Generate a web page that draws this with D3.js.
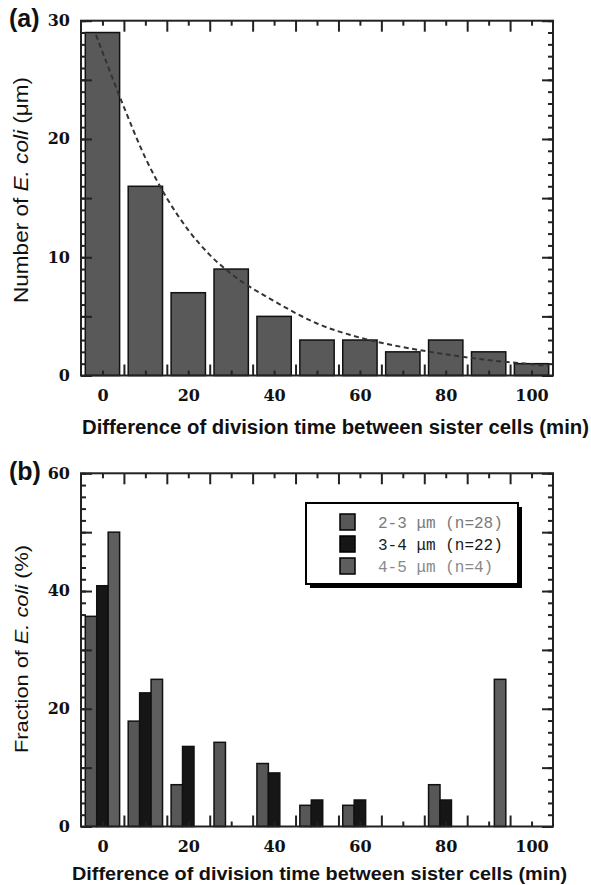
<!DOCTYPE html>
<html><head><meta charset="utf-8">
<script src="https://cdn.jsdelivr.net/npm/d3@7"></script>
<style>
html,body{margin:0;padding:0;background:#fff;}
svg{display:block;}
</style>
</head><body>
<svg id="chart" width="591" height="885"></svg>
<script>
// ---------- data ----------
const bins = [0,10,20,30,40,50,60,70,80,90,100];
const countsA = [29,16,7,9,5,3,3,2,3,2,1];
const fitX = [-1.5,5,10,15,20,25,30,40,50,60,70,80,90,100,104];
const fitY = [28.8,22.7,18.4,15.0,12.3,10.2,8.6,6.3,4.4,3.2,2.4,1.8,1.3,0.95,0.8];
const seriesNames = ["2-3 \u03bcm (n=28)","3-4 \u03bcm (n=22)","4-5 \u03bcm (n=4)"];
const frac23 = [35.7,17.9,7.1,14.3,10.7,3.6,3.6,0,7.1,0,0];
const frac34 = [40.9,22.7,13.6,0,9.1,4.5,4.5,0,4.5,0,0];
const frac45 = [50,25,0,0,0,0,0,0,0,25,0];
const xTickLabels = [0,20,40,60,80,100];
const yTicksA = [0,10,20,30];
const yTicksB = [0,20,40,60];
const xLabel = "Difference of division time between sister cells (min)";

const svg = d3.select("#chart");
const L = 81, R = 553;
const x = d3.scaleLinear().domain([-5,105]).range([L,R]);
const longX = d3.range(5,100,10);
const shortX = d3.range(0,101,10);
const seriesFill = ["#575757","#161616","#5e5e5e"];
const tickFont = "'DejaVu Serif', serif";

function frame(top, bottom, y, minorStep, majorStep, yTicks, ymax){
  const g = svg.append("g");
  // top ticks
  const mk = (axis, tf, vals, size) => {
    const a = g.append("g").attr("transform", tf).call(axis.tickValues(vals).tickSize(size).tickFormat(""));
    a.select(".domain").remove();
    a.selectAll("line").attr("stroke","#222").attr("stroke-width",2);
  };
  mk(d3.axisBottom(x), `translate(0,${top})`, longX, 11);
  mk(d3.axisBottom(x), `translate(0,${top})`, shortX, 5);
  mk(d3.axisTop(x), `translate(0,${bottom})`, longX, 11);
  mk(d3.axisTop(x), `translate(0,${bottom})`, shortX, 5);
  const minorVals = d3.range(0, ymax+0.001, minorStep);
  const majorVals = d3.range(0, ymax+0.001, majorStep);
  mk(d3.axisRight(y), `translate(${L},0)`, minorVals, 5);
  mk(d3.axisRight(y), `translate(${L},0)`, majorVals, 11);
  mk(d3.axisLeft(y), `translate(${R},0)`, minorVals, 5);
  mk(d3.axisLeft(y), `translate(${R},0)`, majorVals, 11);
  // labels
  const xl = g.append("g").attr("transform",`translate(0,${bottom+25})`)
    .call(d3.axisBottom(x).tickValues(xTickLabels).tickSize(0).tickPadding(0));
  xl.select(".domain").remove();
  xl.selectAll("text").attr("font-family",tickFont).attr("font-weight","bold")
    .attr("font-size",16).attr("fill","#111").attr("dy",0).attr("y",0);
  const yl = g.append("g").attr("transform",`translate(${L-11},0)`)
    .call(d3.axisLeft(y).tickValues(yTicks).tickSize(0).tickPadding(0));
  yl.select(".domain").remove();
  yl.selectAll("text").attr("font-family",tickFont).attr("font-weight","bold")
    .attr("font-size",16).attr("fill","#111").attr("dy","0.3em");
  return g;
}

// ---------- panel (a) ----------
const topA = 20.7, botA = 375.5;
const yA = d3.scaleLinear().domain([0,30]).range([botA, topA]);
svg.append("g").selectAll("rect").data(bins).join("rect")
  .attr("x", d => x(d-4)).attr("width", d => x(d+4)-x(d-4))
  .attr("y", (d,i) => yA(countsA[i])).attr("height", (d,i) => yA(0)-yA(countsA[i]))
  .attr("fill","#595959").attr("stroke","#111").attr("stroke-width",1.5);
const fitPts = fitX.map((v,i)=>[v, fitY[i]]);
svg.append("path").datum(fitPts)
  .attr("d", d3.line().x(d=>x(d[0])).y(d=>yA(d[1])).curve(d3.curveMonotoneX))
  .attr("fill","none").attr("stroke","#333").attr("stroke-width",2).attr("stroke-dasharray","5,3.5");
frame(topA, botA, yA, 1, 5, yTicksA, 30);
svg.append("rect").attr("x",L).attr("y",topA).attr("width",R-L).attr("height",botA-topA)
  .attr("fill","none").attr("stroke","#222").attr("stroke-width",2);

svg.append("text").attr("x",9).attr("y",27).attr("font-family","'Liberation Sans', Arial, sans-serif")
  .attr("font-weight","bold").attr("font-size",25).attr("fill","#111").text("(a)");
const ylabA = svg.append("text").attr("transform","translate(28,190) rotate(-90)")
  .attr("text-anchor","middle").attr("font-family","'Liberation Sans', Arial, sans-serif")
  .attr("font-size",20).attr("fill","#111")
  .attr("textLength",226).attr("lengthAdjust","spacingAndGlyphs");
ylabA.append("tspan").text("Number of ");
ylabA.append("tspan").attr("font-style","italic").text("E. coli");
ylabA.append("tspan").text(" (\u03bcm)");
svg.append("text").attr("x",82).attr("y",434).attr("font-family","'Liberation Sans', Arial, sans-serif")
  .attr("font-weight","bold").attr("font-size",20).attr("fill","#111")
  .attr("textLength",507).attr("lengthAdjust","spacingAndGlyphs").text(xLabel);

// ---------- panel (b) ----------
const topB = 473.3, botB = 826.5;
const yB = d3.scaleLinear().domain([0,60]).range([botB, topB]);
const fracs = [frac23, frac34, frac45];
const slot = 8/3;
fracs.forEach((arr, s) => {
  svg.append("g").selectAll("rect").data(bins.filter((d,i)=>arr[i]>0)).join("rect")
    .attr("x", d => x(d-4+s*slot)).attr("width", x(slot)-x(0))
    .attr("y", d => yB(arr[bins.indexOf(d)]))
    .attr("height", d => yB(0)-yB(arr[bins.indexOf(d)]))
    .attr("fill", seriesFill[s]).attr("stroke","#111").attr("stroke-width",1.5);
});
frame(topB, botB, yB, 2, 10, yTicksB, 60);
svg.append("rect").attr("x",L).attr("y",topB).attr("width",R-L).attr("height",botB-topB)
  .attr("fill","none").attr("stroke","#222").attr("stroke-width",2);

svg.append("text").attr("x",9).attr("y",480).attr("font-family","'Liberation Sans', Arial, sans-serif")
  .attr("font-weight","bold").attr("font-size",25).attr("fill","#111").text("(b)");
const ylabB = svg.append("text").attr("transform","translate(28,649) rotate(-90)")
  .attr("text-anchor","middle").attr("font-family","'Liberation Sans', Arial, sans-serif")
  .attr("font-size",19).attr("fill","#111")
  .attr("textLength",208).attr("lengthAdjust","spacingAndGlyphs");
ylabB.append("tspan").text("Fraction of ");
ylabB.append("tspan").attr("font-style","italic").text("E. coli");
ylabB.append("tspan").text(" (%)");
svg.append("text").attr("x",72).attr("y",880).attr("font-family","'Liberation Sans', Arial, sans-serif")
  .attr("font-weight","bold").attr("font-size",18).attr("fill","#111")
  .attr("textLength",495).attr("lengthAdjust","spacingAndGlyphs").text(xLabel);

// legend
const lg = svg.append("g");
lg.append("rect").attr("x",310).attr("y",507).attr("width",212).attr("height",81).attr("fill","#000");
lg.append("rect").attr("x",306).attr("y",503).attr("width",212).attr("height",81)
  .attr("fill","#fff").attr("stroke","#000").attr("stroke-width",2);
const legTextFill = ["#7a7a7a","#1a1a1a","#8a8a8a"];
seriesNames.forEach((n,i) => {
  const yy = 514 + i*22;
  lg.append("rect").attr("x",340).attr("y",yy).attr("width",15).attr("height",16)
    .attr("fill",seriesFill[i]).attr("stroke","#000").attr("stroke-width",1.5);
  lg.append("text").attr("x",378).attr("y",yy+14).attr("font-family","'Liberation Mono', 'DejaVu Sans Mono', monospace")
    .attr("font-size",16).attr("fill",legTextFill[i]).text(n);
});
</script>
</body></html>
